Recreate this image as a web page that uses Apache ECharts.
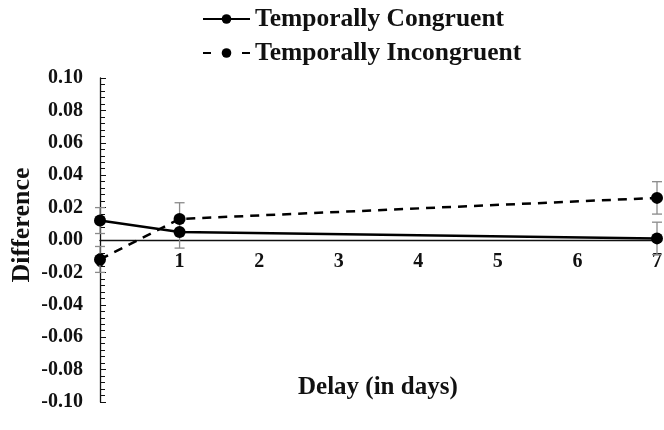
<!DOCTYPE html>
<html>
<head>
<meta charset="utf-8">
<script src="https://cdn.jsdelivr.net/npm/echarts@6/dist/echarts.min.js"></script>
<style>html,body{margin:0;padding:0;background:#fff}#c{width:664px;height:430px}</style>
</head>
<body>
<div id="c"></div>
<script>
var delays = [0, 1, 7];
var congruent = [0.012, 0.005, 0.001];
var congruentErr = [0.008, 0.010, 0.010];
var incongruent = [-0.012, 0.013, 0.026];
var incongruentErr = [0.008, 0.010, 0.010];
var yTicks = [-0.10, -0.08, -0.06, -0.04, -0.02, 0.00, 0.02, 0.04, 0.06, 0.08, 0.10];

var FONT = '"Liberation Serif", "Times New Roman", serif';

function pairs(xs, ys) { return xs.map(function (x, i) { return [x, ys[i]]; }); }
function errData(xs, ys, es) { return xs.map(function (x, i) { return [x, ys[i] - es[i], ys[i] + es[i]]; }); }

function errRender(params, api) {
  var x = api.value(0);
  var lo = api.coord([x, api.value(1)]);
  var hi = api.coord([x, api.value(2)]);
  var w = 5;
  var st = { stroke: '#8a8a8a', lineWidth: 1.3 };
  return {
    type: 'group',
    children: [
      { type: 'line', shape: { x1: lo[0], y1: lo[1], x2: hi[0], y2: hi[1] }, style: st },
      { type: 'line', shape: { x1: lo[0] - w, y1: lo[1], x2: lo[0] + w, y2: lo[1] }, style: st },
      { type: 'line', shape: { x1: hi[0] - w, y1: hi[1], x2: hi[0] + w, y2: hi[1] }, style: st }
    ]
  };
}

var GRID_TOP = 78, GRID_BOTTOM = 28, H = 430;
var zeroOffset = -((H - GRID_TOP - GRID_BOTTOM) / 2);

var chart = echarts.init(document.getElementById('c'), null, { renderer: 'canvas' });
chart.setOption({
  animation: false,
  backgroundColor: '#fff',
  textStyle: { fontFamily: FONT },
  title: {
    text: 'Delay (in days)',
    left: 293, top: 370,
    textStyle: { fontFamily: FONT, fontWeight: 'bold', fontSize: 25, color: '#111' }
  },
  legend: {
    orient: 'vertical',
    left: 197, top: 1,
    itemWidth: 47, itemHeight: 12, itemGap: 8,
    data: [
      { name: 'Temporally Congruent' },
      { name: 'Temporally Incongruent', lineStyle: { type: [8, 11.5] } }
    ],
    textStyle: { fontFamily: FONT, fontWeight: 'bold', fontSize: 25.5, color: '#111' }
  },
  grid: { left: 100, right: 7, top: GRID_TOP, bottom: GRID_BOTTOM, containLabel: false, outerBoundsMode: 'none' },
  xAxis: {
    type: 'value', min: 0, max: 7, interval: 1,
    position: 'bottom', offset: zeroOffset,
    axisLine: { onZero: false, lineStyle: { color: '#111', width: 1.3 } },
    axisTick: { show: false },
    splitLine: { show: false },
    axisLabel: { fontFamily: FONT, fontWeight: 'bold', fontSize: 20, color: '#111', margin: 12 }
  },
  yAxis: {
    type: 'value', min: -0.1, max: 0.1, interval: 0.02,
    name: 'Difference', nameLocation: 'middle', nameGap: 65, nameRotate: 90,
    nameMoveOverlap: false,
    nameTextStyle: { fontFamily: FONT, fontWeight: 'bold', fontSize: 26, color: '#111', padding: [0, 0, 0, 30] },
    axisLine: { onZero: false, lineStyle: { color: '#111', width: 1.3 } },
    axisTick: { show: true, inside: true, length: 6, lineStyle: { color: '#111' } },
    minorTick: { show: true, splitNumber: 5, length: 5, lineStyle: { color: '#111' } },
    splitLine: { show: false },
    axisLabel: {
      fontFamily: FONT, fontWeight: 'bold', fontSize: 20, color: '#111', margin: 17,
      formatter: function (v) {
        var t = yTicks.reduce(function (a, b) { return Math.abs(b - v) < Math.abs(a - v) ? b : a; });
        return t.toFixed(2);
      }
    }
  },
  series: [
    {
      type: 'custom', name: 'errC', renderItem: errRender, z: 1,
      data: errData(delays, congruent, congruentErr), silent: true
    },
    {
      type: 'custom', name: 'errI', renderItem: errRender, z: 1,
      data: errData(delays, incongruent, incongruentErr), silent: true
    },
    {
      name: 'Temporally Congruent', type: 'line', z: 3,
      data: pairs(delays, congruent),
      symbol: 'circle', symbolSize: 12,
      itemStyle: { color: '#000' },
      lineStyle: { color: '#000', width: 2.5, type: 'solid' }
    },
    {
      name: 'Temporally Incongruent', type: 'line', z: 3,
      data: pairs(delays, incongruent),
      symbol: 'circle', symbolSize: 12,
      itemStyle: { color: '#000' },
      lineStyle: { color: '#000', width: 2.5, type: [9, 7] }
    }
  ]
});
</script>
</body>
</html>
